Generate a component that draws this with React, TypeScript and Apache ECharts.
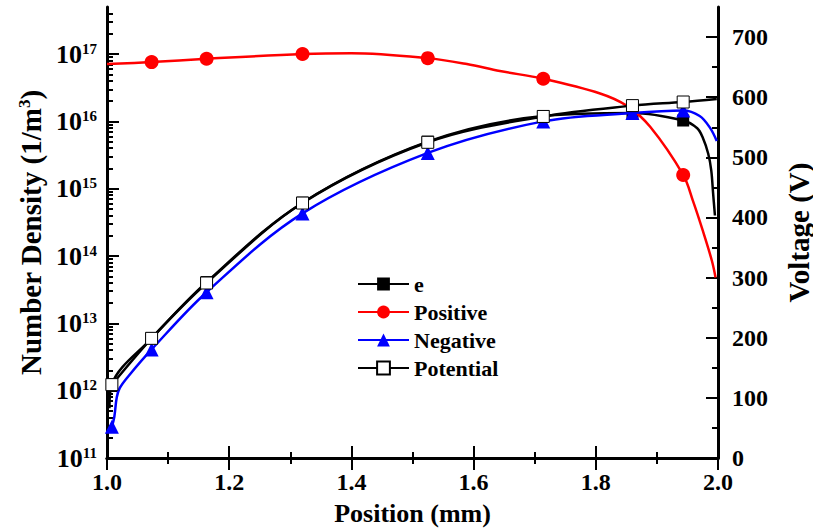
import React, { useEffect, useRef } from 'react';
import * as echarts from 'echarts';

const FONT = '"Liberation Serif", "Times New Roman", serif';

// marker positions (mm)
const MARK_X = [1.008, 1.073, 1.163, 1.32, 1.525, 1.714, 1.86, 1.943];
const POSITIVE_MARK_X = [1.073, 1.163, 1.32, 1.525, 1.714, 1.943];

// e density (1/m^3)
const E_X = [1.004, 1.008, 1.073, 1.163, 1.32, 1.525, 1.714, 1.86, 1.943, 1.966, 1.975, 1.984, 1.989, 1.992, 1.995];
const E_DENSITY = [5.5e11, 1.25e12, 6.0e12, 4.1e13, 6.2e14, 5.0e15, 1.2e16, 1.33e16, 1.03e16, 7.9e15, 5.75e15, 3.3e15, 1.86e15, 8.5e14, 4.0e14];

// Positive ion density (1/m^3)
const POS_X = [1.0, 1.073, 1.163, 1.32, 1.4, 1.525, 1.589, 1.643, 1.714, 1.807, 1.851, 1.889, 1.943, 1.959, 1.975, 1.99, 1.996];
const POS_DENSITY = [7.1e16, 7.6e16, 8.5e16, 1.0e17, 1.03e17, 8.7e16, 7.1e16, 5.6e16, 4.3e16, 2.6e16, 1.7e16, 8.3e15, 1.6e15, 6.6e14, 2.4e14, 8.5e13, 4.8e13];

// Negative ion density (1/m^3)
const NEG_X = [1.008, 1.012, 1.016, 1.021, 1.034, 1.073, 1.163, 1.32, 1.525, 1.714, 1.86, 1.943, 1.97, 1.987, 1.998];
const NEG_DENSITY = [2.9e11, 4.1e11, 8.0e11, 1.1e12, 1.6e12, 4.1e12, 2.9e13, 4.3e14, 3.4e15, 1.0e16, 1.33e16, 1.45e16, 1.2e16, 8.0e15, 5.1e15];

// Potential (V)
const POT_X = [1.003, 1.008, 1.073, 1.163, 1.32, 1.525, 1.714, 1.86, 1.943, 1.998];
const POT_VOLT = [115, 122, 199, 291, 424, 525, 568, 586, 592, 597];

// axis ticks
const X_MIN = 1.0;
const X_MAX = 2.0;
const DENSITY_MIN = 1e11;
const DENSITY_MAX = 5e17;
const DECADES = [11, 12, 13, 14, 15, 16, 17];
const VOLT_TICKS = [0, 100, 200, 300, 400, 500, 600, 700];
const VOLT_MINOR = [50, 150, 250, 350, 450, 550, 650];
const VOLT_MAX = 750;

const lg = (v: number) => Math.log10(v);

function buildData(xs: number[], ys: number[], marks: number[], tf: (v: number) => number) {
  return xs.map((x, i) => {
    const v = [x, tf(ys[i])];
    return marks.includes(x) ? v : { value: v, symbol: 'none' };
  });
}

export default function App() {
  const ref = useRef<HTMLDivElement>(null);
  useEffect(() => {
    document.body.style.margin = '0';
    if (!ref.current) return;
    const chart = echarts.init(ref.current, undefined, { renderer: 'svg' });

    const minorLog: number[] = [];
    for (let n = 11; n <= 17; n++) {
      for (let k = 2; k <= 9; k++) {
        const v = k * Math.pow(10, n);
        if (v < DENSITY_MAX) minorLog.push(lg(v));
      }
    }

    const labelStyle = { fontFamily: FONT, fontWeight: 'bold' as const, fontSize: 24, color: '#000' };
    const nameStyle = { fontFamily: FONT, fontWeight: 'bold' as const, fontSize: 26, color: '#000' };
    const yNameStyle = { ...nameStyle, fontSize: 29 };
    const lineAx = { show: true, lineStyle: { color: '#000', width: 3 } };
    const tickMajor = { show: true, inside: true, length: 12, lineStyle: { color: '#000', width: 2 } };
    const tickMinor = { show: true, inside: true, length: 6, lineStyle: { color: '#000', width: 2 } };

    const xBase = {
      type: 'value' as const,
      min: X_MIN,
      max: X_MAX,
      interval: 0.2,
      axisLine: lineAx,
      axisTick: tickMajor,
      minorTick: { show: true, splitNumber: 2, length: 6, lineStyle: { color: '#000', width: 2 } },
      splitLine: { show: false },
      minorSplitLine: { show: false },
    };

    const option: any = {
      animation: false,
      backgroundColor: '#fff',
      grid: { left: 107, right: 95, top: 7, bottom: 71, containLabel: false, outerBoundsMode: 'none' },
      legend: {
        data: ['e', 'Positive', 'Negative', 'Potential'],
        orient: 'vertical',
        left: 352,
        top: 268,
        itemWidth: 51,
        itemHeight: 16,
        itemGap: 6,
        textStyle: { fontFamily: FONT, fontWeight: 'bold', fontSize: 22, color: '#000' },
      },
      xAxis: [
        {
          ...xBase,
          position: 'bottom',
          axisLabel: { ...labelStyle, margin: 12, formatter: (v: number) => v.toFixed(1) },
          name: 'Position (mm)',
          nameLocation: 'middle',
          nameGap: 42,
          nameTextStyle: nameStyle,
        },
        {
          ...xBase,
          position: 'top',
          axisLabel: { show: false },
        },
      ],
      yAxis: [
        {
          type: 'value',
          position: 'left',
          min: lg(DENSITY_MIN),
          max: lg(DENSITY_MAX),
          axisLine: lineAx,
          axisTick: { ...tickMajor, customValues: DECADES },
          axisLabel: {
            customValues: DECADES,
            margin: 10,
            formatter: (v: number) => `{b|10}{s|${Math.round(v)}}`,
            rich: {
              b: { ...labelStyle, fontSize: 26 },
              s: { ...labelStyle, fontSize: 15, verticalAlign: 'top' },
            },
          },
          splitLine: { show: false },
          name: 'Number Density (1/m{sup|3})',
          nameLocation: 'middle',
          nameRotate: 90,
          nameGap: 62,
          nameTextStyle: {
            ...yNameStyle,
            rich: { sup: { ...yNameStyle, fontSize: 17, verticalAlign: 'top' } },
          },
        },
        {
          type: 'value',
          position: 'right',
          min: 0,
          max: VOLT_MAX,
          axisLine: lineAx,
          axisTick: { ...tickMajor, customValues: VOLT_TICKS },
          axisLabel: { ...labelStyle, customValues: VOLT_TICKS, margin: 14 },
          splitLine: { show: false },
          name: 'Voltage (V)',
          nameLocation: 'middle',
          nameRotate: 90,
          nameGap: 66,
          nameTextStyle: yNameStyle,
        },
        {
          type: 'value',
          position: 'left',
          min: lg(DENSITY_MIN),
          max: lg(DENSITY_MAX),
          axisLine: { show: false },
          axisTick: { ...tickMinor, customValues: minorLog },
          axisLabel: { show: false },
          splitLine: { show: false },
        },
        {
          type: 'value',
          position: 'right',
          min: 0,
          max: VOLT_MAX,
          axisLine: { show: false },
          axisTick: { ...tickMinor, customValues: VOLT_MINOR },
          axisLabel: { show: false },
          splitLine: { show: false },
        },
      ],
      series: [
        {
          name: 'e',
          type: 'line',
          yAxisIndex: 0,
          smooth: 0.35,
          symbol: 'rect',
          symbolSize: 12,
          itemStyle: { color: '#000' },
          lineStyle: { color: '#000', width: 2.5 },
          data: buildData(E_X, E_DENSITY, MARK_X, lg),
          z: 2,
        },
        {
          name: 'Positive',
          type: 'line',
          yAxisIndex: 0,
          smooth: 0.35,
          symbol: 'circle',
          symbolSize: 14,
          itemStyle: { color: '#ff0000' },
          lineStyle: { color: '#ff0000', width: 2.5 },
          data: buildData(POS_X, POS_DENSITY, POSITIVE_MARK_X, lg),
          z: 3,
        },
        {
          name: 'Negative',
          type: 'line',
          yAxisIndex: 0,
          smooth: 0.35,
          symbol: 'triangle',
          symbolSize: 14,
          itemStyle: { color: '#0000ff' },
          lineStyle: { color: '#0000ff', width: 2.5 },
          data: buildData(NEG_X, NEG_DENSITY, MARK_X, lg),
          z: 4,
        },
        {
          name: 'Potential',
          type: 'line',
          yAxisIndex: 1,
          smooth: 0.35,
          symbol: 'rect',
          symbolSize: 12,
          itemStyle: { color: '#fff', borderColor: '#000', borderWidth: 1 },
          lineStyle: { color: '#000', width: 2.5 },
          data: buildData(POT_X, POT_VOLT, MARK_X, (v) => v),
          z: 5,
        },
      ],
    };

    chart.setOption(option);
    return () => chart.dispose();
  }, []);

  return <div ref={ref} style={{ width: 813, height: 529 }} />;
}
